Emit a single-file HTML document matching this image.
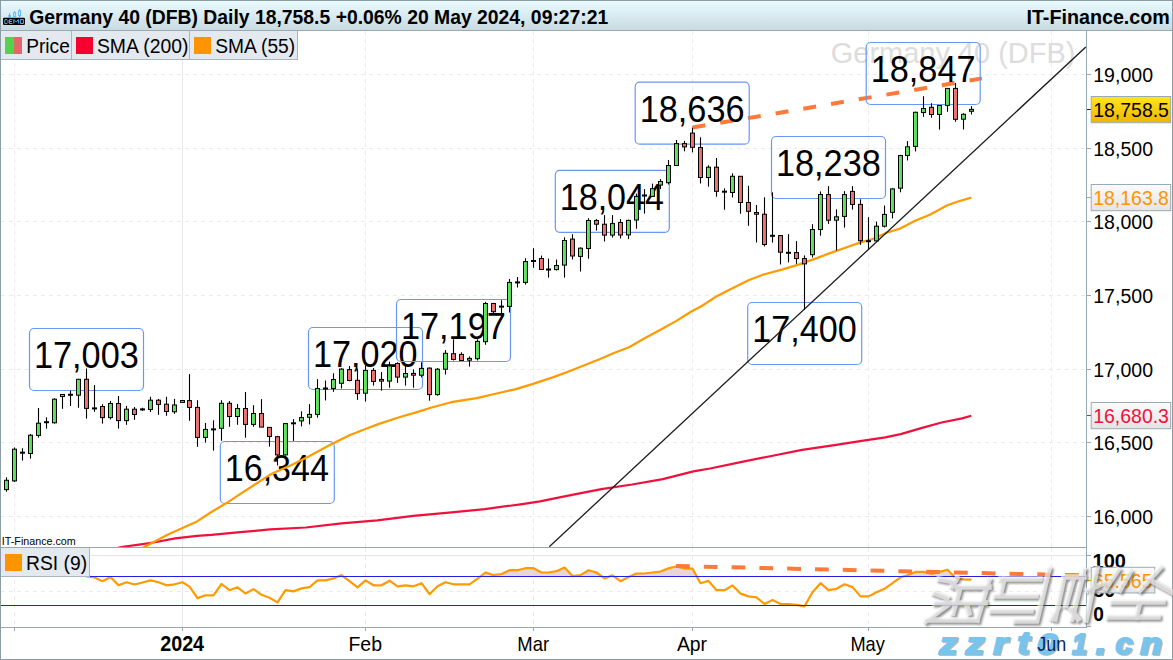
<!DOCTYPE html><html><head><meta charset="utf-8"><style>html,body{margin:0;padding:0;background:#fff;overflow:hidden}svg{display:block}text{font-family:"Liberation Sans",sans-serif}</style></head><body>
<svg width="1173" height="660" viewBox="0 0 1173 660">
<defs>
<linearGradient id="hdr" x1="0" y1="0" x2="0" y2="1"><stop offset="0" stop-color="#ebfcff"/><stop offset="0.5" stop-color="#d9ecf2"/><stop offset="1" stop-color="#c9dae0"/></linearGradient>
<linearGradient id="yel" x1="0" y1="0" x2="0" y2="1"><stop offset="0" stop-color="#ffe61e"/><stop offset="1" stop-color="#f0b400"/></linearGradient>
<linearGradient id="gry" x1="0" y1="0" x2="0" y2="1"><stop offset="0" stop-color="#fbfbfb"/><stop offset="1" stop-color="#e4e4e4"/></linearGradient>
<linearGradient id="gc" x1="0" y1="0" x2="1" y2="0"><stop offset="0" stop-color="#6cf06c"/><stop offset="1" stop-color="#4fcf4f"/></linearGradient>
<linearGradient id="rc" x1="0" y1="0" x2="1" y2="0"><stop offset="0" stop-color="#f47c7c"/><stop offset="1" stop-color="#e06868"/></linearGradient>
<clipPath id="main"><rect x="1" y="31" width="1085" height="516"/></clipPath>
<clipPath id="rsip"><rect x="1" y="548" width="1085" height="79"/></clipPath>
<clipPath id="above70"><rect x="1" y="548" width="1085" height="28.5"/></clipPath>
</defs>
<rect x="0" y="0" width="1173" height="660" fill="#fff"/>
<rect x="0" y="0" width="1173" height="30" fill="url(#hdr)"/>
<line x1="0" y1="30.5" x2="1173" y2="30.5" stroke="#9aaab2" stroke-width="1"/>
<line x1="1" y1="74.5" x2="1086" y2="74.5" stroke="#ebebeb" stroke-dasharray="4 4"/><line x1="1" y1="148.5" x2="1086" y2="148.5" stroke="#ebebeb" stroke-dasharray="4 4"/><line x1="1" y1="221.5" x2="1086" y2="221.5" stroke="#ebebeb" stroke-dasharray="4 4"/><line x1="1" y1="295.5" x2="1086" y2="295.5" stroke="#ebebeb" stroke-dasharray="4 4"/><line x1="1" y1="369.5" x2="1086" y2="369.5" stroke="#ebebeb" stroke-dasharray="4 4"/><line x1="1" y1="442.5" x2="1086" y2="442.5" stroke="#ebebeb" stroke-dasharray="4 4"/><line x1="1" y1="516.5" x2="1086" y2="516.5" stroke="#ebebeb" stroke-dasharray="4 4"/><line x1="14.5" y1="31" x2="14.5" y2="547" stroke="#ebebeb" stroke-dasharray="4 4"/><line x1="182.5" y1="31" x2="182.5" y2="547" stroke="#e9e9e9"/><line x1="365.5" y1="31" x2="365.5" y2="547" stroke="#ebebeb" stroke-dasharray="4 4"/><line x1="533.5" y1="31" x2="533.5" y2="547" stroke="#ebebeb" stroke-dasharray="4 4"/><line x1="692.5" y1="31" x2="692.5" y2="547" stroke="#ebebeb" stroke-dasharray="4 4"/><line x1="868.5" y1="31" x2="868.5" y2="547" stroke="#ebebeb" stroke-dasharray="4 4"/><line x1="1051.5" y1="31" x2="1051.5" y2="547" stroke="#ebebeb" stroke-dasharray="4 4"/>
<text transform="translate(830.75,62.80) scale(0.9707,1)" font-size="29.86" font-weight="normal" font-style="normal" fill="#dddddd" >Germany 40 (DFB)</text>
<line x1="692.5" y1="127.5" x2="982" y2="78.4" stroke="#ff7a3a" stroke-width="4" stroke-dasharray="13 15.1"/>
<rect x="29.5" y="328.5" width="114" height="62" rx="4.5" fill="none" stroke="#6898f4" stroke-width="1.2"/><text transform="translate(33.96,368.00) scale(0.9505,1)" font-size="36.09" font-weight="normal" font-style="normal" fill="#000" >17,003</text><rect x="220.3" y="441.5" width="114" height="62" rx="4.5" fill="none" stroke="#6898f4" stroke-width="1.2"/><text transform="translate(224.77,481.00) scale(0.9440,1)" font-size="36.09" font-weight="normal" font-style="normal" fill="#000" >16,344</text><rect x="308.5" y="327.5" width="114" height="62" rx="4.5" fill="none" stroke="#6898f4" stroke-width="1.2"/><text transform="translate(312.97,367.00) scale(0.9473,1)" font-size="36.09" font-weight="normal" font-style="normal" fill="#000" >17,020</text><rect x="396.5" y="299.5" width="114" height="62" rx="4.5" fill="none" stroke="#6898f4" stroke-width="1.2"/><text transform="translate(400.96,339.00) scale(0.9505,1)" font-size="36.09" font-weight="normal" font-style="normal" fill="#000" >17,197</text><rect x="555.3" y="170.3" width="114" height="62" rx="4.5" fill="none" stroke="#6898f4" stroke-width="1.2"/><text transform="translate(559.77,209.80) scale(0.9440,1)" font-size="36.09" font-weight="normal" font-style="normal" fill="#000" >18,044</text><rect x="635.2" y="82.2" width="114" height="62" rx="4.5" fill="none" stroke="#6898f4" stroke-width="1.2"/><text transform="translate(639.66,121.70) scale(0.9505,1)" font-size="36.09" font-weight="normal" font-style="normal" fill="#000" >18,636</text><rect x="771.5" y="136.5" width="114" height="62" rx="4.5" fill="none" stroke="#6898f4" stroke-width="1.2"/><text transform="translate(775.96,176.00) scale(0.9505,1)" font-size="36.09" font-weight="normal" font-style="normal" fill="#000" >18,238</text><rect x="747.7" y="302.5" width="114" height="62" rx="4.5" fill="none" stroke="#6898f4" stroke-width="1.2"/><text transform="translate(752.17,342.00) scale(0.9473,1)" font-size="36.09" font-weight="normal" font-style="normal" fill="#000" >17,400</text><rect x="866.2" y="42.5" width="114" height="62" rx="4.5" fill="none" stroke="#6898f4" stroke-width="1.2"/><text transform="translate(870.66,82.00) scale(0.9505,1)" font-size="36.09" font-weight="normal" font-style="normal" fill="#000" >18,847</text>
<g clip-path="url(#main)"><polyline points="118.0,547.8 123.0,546.8 139.0,544.6 153.5,542.5 175.2,538.4 197.0,535.9 211.4,534.9 237.5,532.3 255.0,530.9 270.0,529.4 305.8,527.5 341.6,523.4 377.4,520.3 413.2,515.8 449.0,512.7 484.8,509.1 520.6,504.3 540.0,501.4 570.7,495.2 601.4,489.1 632.1,484.5 662.8,479.1 693.4,471.4 710.0,468.5 740.7,462.1 771.4,456.0 802.1,449.9 832.8,445.3 863.4,440.7 885.3,437.3 900.7,434.1 921.2,428.1 941.6,422.5 962.1,418.4 971.3,415.7" fill="none" stroke="#f0103c" stroke-width="2.2" stroke-linejoin="round"/>
<polyline points="141.0,548.8 144.8,546.8 168.0,534.5 182.5,528.0 197.0,521.4 211.4,512.0 226.0,503.3 240.4,493.9 254.9,484.5 269.4,475.1 276.7,471.6 292.1,464.8 309.1,456.3 327.9,446.0 336.4,441.8 350.0,435.0 365.4,429.0 379.0,423.9 400.0,417.0 417.0,412.1 430.7,407.8 451.2,402.2 476.7,398.1 495.5,393.7 515.9,389.1 533.0,383.9 553.5,377.1 570.5,370.8 600.0,358.9 614.5,352.7 629.1,347.3 645.5,337.8 660.0,330.0 676.4,320.9 690.9,311.8 701.8,306.0 716.4,296.4 730.9,289.1 749.1,280.0 763.6,274.5 781.8,269.6 800.0,264.1 815.3,258.6 830.7,252.9 846.0,247.5 861.4,242.1 873.7,238.8 885.9,232.9 899.7,228.8 915.1,220.7 930.4,214.5 947.3,205.3 958.0,201.5 971.2,197.6" fill="none" stroke="#ff9a00" stroke-width="2.2" stroke-linejoin="round"/></g>
<g><line x1="6.5" y1="477.3" x2="6.5" y2="491.7" stroke="#000" stroke-width="1.1"/><rect x="4.5" y="480.3" width="4" height="9.3" fill="url(#gc)" stroke="#000" stroke-width="1"/><line x1="14.5" y1="447.4" x2="14.5" y2="481.9" stroke="#000" stroke-width="1.1"/><rect x="12.5" y="449.2" width="4" height="31.7" fill="url(#gc)" stroke="#000" stroke-width="1"/><line x1="22.5" y1="448.2" x2="22.5" y2="460.6" stroke="#000" stroke-width="1.1"/><rect x="20.0" y="451.7" width="5" height="2" fill="#000"/><line x1="30.5" y1="434.0" x2="30.5" y2="458.6" stroke="#000" stroke-width="1.1"/><rect x="28.5" y="435.2" width="4" height="18.3" fill="url(#gc)" stroke="#000" stroke-width="1"/><line x1="38.5" y1="408.0" x2="38.5" y2="437.6" stroke="#000" stroke-width="1.1"/><rect x="36.5" y="423.2" width="4" height="12.2" fill="url(#gc)" stroke="#000" stroke-width="1"/><line x1="46.5" y1="417.3" x2="46.5" y2="428.7" stroke="#000" stroke-width="1.1"/><rect x="44.0" y="421.2" width="5" height="2" fill="#000"/><line x1="54.5" y1="398.2" x2="54.5" y2="423.6" stroke="#000" stroke-width="1.1"/><rect x="52.5" y="399.2" width="4" height="23.6" fill="url(#gc)" stroke="#000" stroke-width="1"/><line x1="62.5" y1="394.2" x2="62.5" y2="408.8" stroke="#000" stroke-width="1.1"/><rect x="60.5" y="394.5" width="4" height="2.0" fill="url(#gc)" stroke="#000" stroke-width="1"/><line x1="70.5" y1="390.7" x2="70.5" y2="406.0" stroke="#000" stroke-width="1.1"/><rect x="68.0" y="393.8" width="5" height="2" fill="#000"/><line x1="78.5" y1="378.9" x2="78.5" y2="407.8" stroke="#000" stroke-width="1.1"/><rect x="76.5" y="379.3" width="4" height="15.9" fill="url(#gc)" stroke="#000" stroke-width="1"/><line x1="86.5" y1="368.5" x2="86.5" y2="418.6" stroke="#000" stroke-width="1.1"/><rect x="84.5" y="379.3" width="4" height="29.1" fill="url(#rc)" stroke="#000" stroke-width="1"/><line x1="94.5" y1="385.0" x2="94.5" y2="411.8" stroke="#000" stroke-width="1.1"/><rect x="92.0" y="407.4" width="5" height="2" fill="#000"/><line x1="102.5" y1="404.2" x2="102.5" y2="423.6" stroke="#000" stroke-width="1.1"/><rect x="100.5" y="406.5" width="4" height="11.1" fill="url(#rc)" stroke="#000" stroke-width="1"/><line x1="110.5" y1="400.9" x2="110.5" y2="419.5" stroke="#000" stroke-width="1.1"/><rect x="108.5" y="403.5" width="4" height="14.1" fill="url(#gc)" stroke="#000" stroke-width="1"/><line x1="118.5" y1="396.0" x2="118.5" y2="428.6" stroke="#000" stroke-width="1.1"/><rect x="116.5" y="403.5" width="4" height="17.1" fill="url(#rc)" stroke="#000" stroke-width="1"/><line x1="126.5" y1="405.9" x2="126.5" y2="424.8" stroke="#000" stroke-width="1.1"/><rect x="124.5" y="409.2" width="4" height="11.4" fill="url(#gc)" stroke="#000" stroke-width="1"/><line x1="134.5" y1="407.0" x2="134.5" y2="419.8" stroke="#000" stroke-width="1.1"/><rect x="132.5" y="409.2" width="4" height="5.3" fill="url(#rc)" stroke="#000" stroke-width="1"/><line x1="142.5" y1="407.7" x2="142.5" y2="410.9" stroke="#000" stroke-width="1.1"/><rect x="140.0" y="408.4" width="5" height="2" fill="#000"/><line x1="150.5" y1="396.8" x2="150.5" y2="412.0" stroke="#000" stroke-width="1.1"/><rect x="148.5" y="400.2" width="4" height="9.3" fill="url(#gc)" stroke="#000" stroke-width="1"/><line x1="158.5" y1="399.0" x2="158.5" y2="414.8" stroke="#000" stroke-width="1.1"/><rect x="156.5" y="400.2" width="4" height="4.2" fill="url(#rc)" stroke="#000" stroke-width="1"/><line x1="166.5" y1="396.8" x2="166.5" y2="415.8" stroke="#000" stroke-width="1.1"/><rect x="164.5" y="404.2" width="4" height="7.3" fill="url(#rc)" stroke="#000" stroke-width="1"/><line x1="174.5" y1="398.9" x2="174.5" y2="413.8" stroke="#000" stroke-width="1.1"/><rect x="172.5" y="405.0" width="4" height="6.8" fill="url(#gc)" stroke="#000" stroke-width="1"/><line x1="182.5" y1="400.5" x2="182.5" y2="402.4" stroke="#000" stroke-width="1.1"/><rect x="180.5" y="400.5" width="4" height="1.9" fill="url(#gc)" stroke="#000" stroke-width="1"/><line x1="189.5" y1="374.1" x2="189.5" y2="420.8" stroke="#000" stroke-width="1.1"/><rect x="187.5" y="400.6" width="4" height="6.8" fill="url(#rc)" stroke="#000" stroke-width="1"/><line x1="197.5" y1="400.2" x2="197.5" y2="446.8" stroke="#000" stroke-width="1.1"/><rect x="195.5" y="407.4" width="4" height="30.0" fill="url(#rc)" stroke="#000" stroke-width="1"/><line x1="205.5" y1="423.0" x2="205.5" y2="442.6" stroke="#000" stroke-width="1.1"/><rect x="203.5" y="429.4" width="4" height="8.0" fill="url(#gc)" stroke="#000" stroke-width="1"/><line x1="213.5" y1="420.3" x2="213.5" y2="450.6" stroke="#000" stroke-width="1.1"/><rect x="211.0" y="428.4" width="5" height="2" fill="#000"/><line x1="221.5" y1="400.2" x2="221.5" y2="440.8" stroke="#000" stroke-width="1.1"/><rect x="219.5" y="403.3" width="4" height="25.0" fill="url(#gc)" stroke="#000" stroke-width="1"/><line x1="229.5" y1="401.0" x2="229.5" y2="426.8" stroke="#000" stroke-width="1.1"/><rect x="227.5" y="403.3" width="4" height="13.2" fill="url(#rc)" stroke="#000" stroke-width="1"/><line x1="237.5" y1="404.1" x2="237.5" y2="424.8" stroke="#000" stroke-width="1.1"/><rect x="235.5" y="408.5" width="4" height="8.0" fill="url(#gc)" stroke="#000" stroke-width="1"/><line x1="245.5" y1="392.0" x2="245.5" y2="437.7" stroke="#000" stroke-width="1.1"/><rect x="243.5" y="408.5" width="4" height="15.9" fill="url(#rc)" stroke="#000" stroke-width="1"/><line x1="253.5" y1="405.2" x2="253.5" y2="426.8" stroke="#000" stroke-width="1.1"/><rect x="251.5" y="413.5" width="4" height="10.9" fill="url(#gc)" stroke="#000" stroke-width="1"/><line x1="261.5" y1="399.1" x2="261.5" y2="427.1" stroke="#000" stroke-width="1.1"/><rect x="259.5" y="413.5" width="4" height="13.6" fill="url(#rc)" stroke="#000" stroke-width="1"/><line x1="269.5" y1="427.1" x2="269.5" y2="446.6" stroke="#000" stroke-width="1.1"/><rect x="267.5" y="427.4" width="4" height="9.1" fill="url(#rc)" stroke="#000" stroke-width="1"/><line x1="277.5" y1="435.8" x2="277.5" y2="465.5" stroke="#000" stroke-width="1.1"/><rect x="275.5" y="436.7" width="4" height="18.2" fill="url(#rc)" stroke="#000" stroke-width="1"/><line x1="285.5" y1="423.0" x2="285.5" y2="455.5" stroke="#000" stroke-width="1.1"/><rect x="283.5" y="423.6" width="4" height="31.3" fill="url(#gc)" stroke="#000" stroke-width="1"/><line x1="293.5" y1="419.1" x2="293.5" y2="440.9" stroke="#000" stroke-width="1.1"/><rect x="291.0" y="422.3" width="5" height="2" fill="#000"/><line x1="301.5" y1="411.3" x2="301.5" y2="426.4" stroke="#000" stroke-width="1.1"/><rect x="299.5" y="417.6" width="4" height="3.3" fill="url(#gc)" stroke="#000" stroke-width="1"/><line x1="309.5" y1="404.2" x2="309.5" y2="424.5" stroke="#000" stroke-width="1.1"/><rect x="307.5" y="414.4" width="4" height="2.9" fill="url(#gc)" stroke="#000" stroke-width="1"/><line x1="317.5" y1="379.1" x2="317.5" y2="417.6" stroke="#000" stroke-width="1.1"/><rect x="315.5" y="388.5" width="4" height="25.9" fill="url(#gc)" stroke="#000" stroke-width="1"/><line x1="325.5" y1="380.5" x2="325.5" y2="400.5" stroke="#000" stroke-width="1.1"/><rect x="323.0" y="387.5" width="5" height="2" fill="#000"/><line x1="333.5" y1="373.3" x2="333.5" y2="391.8" stroke="#000" stroke-width="1.1"/><rect x="331.5" y="379.5" width="4" height="9.0" fill="url(#gc)" stroke="#000" stroke-width="1"/><line x1="341.5" y1="368.2" x2="341.5" y2="388.5" stroke="#000" stroke-width="1.1"/><rect x="339.5" y="369.1" width="4" height="14.2" fill="url(#gc)" stroke="#000" stroke-width="1"/><line x1="349.5" y1="366.0" x2="349.5" y2="381.3" stroke="#000" stroke-width="1.1"/><rect x="347.5" y="369.6" width="4" height="10.9" fill="url(#rc)" stroke="#000" stroke-width="1"/><line x1="357.5" y1="368.6" x2="357.5" y2="399.9" stroke="#000" stroke-width="1.1"/><rect x="355.5" y="380.3" width="4" height="13.3" fill="url(#rc)" stroke="#000" stroke-width="1"/><line x1="365.5" y1="365.5" x2="365.5" y2="401.5" stroke="#000" stroke-width="1.1"/><rect x="363.5" y="370.4" width="4" height="22.8" fill="url(#gc)" stroke="#000" stroke-width="1"/><line x1="373.5" y1="368.1" x2="373.5" y2="385.6" stroke="#000" stroke-width="1.1"/><rect x="371.5" y="370.4" width="4" height="11.0" fill="url(#rc)" stroke="#000" stroke-width="1"/><line x1="381.5" y1="372.1" x2="381.5" y2="390.7" stroke="#000" stroke-width="1.1"/><rect x="379.5" y="379.4" width="4" height="1.7" fill="url(#rc)" stroke="#000" stroke-width="1"/><line x1="389.5" y1="361.7" x2="389.5" y2="387.7" stroke="#000" stroke-width="1.1"/><rect x="387.5" y="366.0" width="4" height="15.1" fill="url(#gc)" stroke="#000" stroke-width="1"/><line x1="397.5" y1="362.3" x2="397.5" y2="382.9" stroke="#000" stroke-width="1.1"/><rect x="395.5" y="363.5" width="4" height="13.6" fill="url(#rc)" stroke="#000" stroke-width="1"/><line x1="405.5" y1="364.9" x2="405.5" y2="385.6" stroke="#000" stroke-width="1.1"/><rect x="403.5" y="373.5" width="4" height="3.6" fill="url(#gc)" stroke="#000" stroke-width="1"/><line x1="413.5" y1="369.4" x2="413.5" y2="387.7" stroke="#000" stroke-width="1.1"/><rect x="411.5" y="373.4" width="4" height="1.8" fill="url(#rc)" stroke="#000" stroke-width="1"/><line x1="421.5" y1="362.3" x2="421.5" y2="377.3" stroke="#000" stroke-width="1.1"/><rect x="419.5" y="368.4" width="4" height="6.8" fill="url(#gc)" stroke="#000" stroke-width="1"/><line x1="429.5" y1="367.4" x2="429.5" y2="400.7" stroke="#000" stroke-width="1.1"/><rect x="427.5" y="368.1" width="4" height="26.5" fill="url(#rc)" stroke="#000" stroke-width="1"/><line x1="437.5" y1="368.1" x2="437.5" y2="395.7" stroke="#000" stroke-width="1.1"/><rect x="435.5" y="369.2" width="4" height="25.4" fill="url(#gc)" stroke="#000" stroke-width="1"/><line x1="445.5" y1="350.1" x2="445.5" y2="374.5" stroke="#000" stroke-width="1.1"/><rect x="443.5" y="353.3" width="4" height="15.9" fill="url(#gc)" stroke="#000" stroke-width="1"/><line x1="453.5" y1="339.3" x2="453.5" y2="360.5" stroke="#000" stroke-width="1.1"/><rect x="451.5" y="353.7" width="4" height="5.7" fill="url(#rc)" stroke="#000" stroke-width="1"/><line x1="461.5" y1="352.3" x2="461.5" y2="360.5" stroke="#000" stroke-width="1.1"/><rect x="459.5" y="354.4" width="4" height="6.1" fill="url(#rc)" stroke="#000" stroke-width="1"/><line x1="469.5" y1="356.4" x2="469.5" y2="366.6" stroke="#000" stroke-width="1.1"/><rect x="467.5" y="358.4" width="4" height="1.8" fill="url(#gc)" stroke="#000" stroke-width="1"/><line x1="477.5" y1="339.3" x2="477.5" y2="360.5" stroke="#000" stroke-width="1.1"/><rect x="475.5" y="341.4" width="4" height="17.3" fill="url(#gc)" stroke="#000" stroke-width="1"/><line x1="485.5" y1="301.8" x2="485.5" y2="344.8" stroke="#000" stroke-width="1.1"/><rect x="483.5" y="303.5" width="4" height="38.2" fill="url(#gc)" stroke="#000" stroke-width="1"/><line x1="493.5" y1="302.9" x2="493.5" y2="313.4" stroke="#000" stroke-width="1.1"/><rect x="491.5" y="303.5" width="4" height="8.2" fill="url(#rc)" stroke="#000" stroke-width="1"/><line x1="501.5" y1="300.2" x2="501.5" y2="313.8" stroke="#000" stroke-width="1.1"/><rect x="499.0" y="305.6" width="5" height="2" fill="#000"/><line x1="509.5" y1="279.0" x2="509.5" y2="312.5" stroke="#000" stroke-width="1.1"/><rect x="507.5" y="282.4" width="4" height="24.0" fill="url(#gc)" stroke="#000" stroke-width="1"/><line x1="517.5" y1="277.0" x2="517.5" y2="287.5" stroke="#000" stroke-width="1.1"/><rect x="515.0" y="281.4" width="5" height="2" fill="#000"/><line x1="525.5" y1="258.2" x2="525.5" y2="284.6" stroke="#000" stroke-width="1.1"/><rect x="523.5" y="261.6" width="4" height="20.8" fill="url(#gc)" stroke="#000" stroke-width="1"/><line x1="533.5" y1="248.2" x2="533.5" y2="267.8" stroke="#000" stroke-width="1.1"/><rect x="531.0" y="260.0" width="5" height="2" fill="#000"/><line x1="541.5" y1="255.5" x2="541.5" y2="269.5" stroke="#000" stroke-width="1.1"/><rect x="539.5" y="258.5" width="4" height="11.0" fill="url(#rc)" stroke="#000" stroke-width="1"/><line x1="548.5" y1="258.5" x2="548.5" y2="277.6" stroke="#000" stroke-width="1.1"/><rect x="546.0" y="268.5" width="5" height="2" fill="#000"/><line x1="556.5" y1="259.5" x2="556.5" y2="270.5" stroke="#000" stroke-width="1.1"/><rect x="554.5" y="265.5" width="4" height="4.1" fill="url(#gc)" stroke="#000" stroke-width="1"/><line x1="564.5" y1="237.3" x2="564.5" y2="277.6" stroke="#000" stroke-width="1.1"/><rect x="562.5" y="240.5" width="4" height="24.6" fill="url(#gc)" stroke="#000" stroke-width="1"/><line x1="572.5" y1="234.2" x2="572.5" y2="259.5" stroke="#000" stroke-width="1.1"/><rect x="570.5" y="239.1" width="4" height="16.9" fill="url(#rc)" stroke="#000" stroke-width="1"/><line x1="580.5" y1="247.3" x2="580.5" y2="271.5" stroke="#000" stroke-width="1.1"/><rect x="578.5" y="248.2" width="4" height="8.2" fill="url(#gc)" stroke="#000" stroke-width="1"/><line x1="588.5" y1="218.2" x2="588.5" y2="258.7" stroke="#000" stroke-width="1.1"/><rect x="586.5" y="220.5" width="4" height="28.0" fill="url(#gc)" stroke="#000" stroke-width="1"/><line x1="596.5" y1="219.1" x2="596.5" y2="230.5" stroke="#000" stroke-width="1.1"/><rect x="594.5" y="220.5" width="4" height="3.7" fill="url(#rc)" stroke="#000" stroke-width="1"/><line x1="604.5" y1="215.1" x2="604.5" y2="241.5" stroke="#000" stroke-width="1.1"/><rect x="602.5" y="224.2" width="4" height="10.9" fill="url(#rc)" stroke="#000" stroke-width="1"/><line x1="612.5" y1="215.1" x2="612.5" y2="237.6" stroke="#000" stroke-width="1.1"/><rect x="610.5" y="223.6" width="4" height="11.5" fill="url(#gc)" stroke="#000" stroke-width="1"/><line x1="620.5" y1="219.1" x2="620.5" y2="238.5" stroke="#000" stroke-width="1.1"/><rect x="618.5" y="222.5" width="4" height="12.5" fill="url(#rc)" stroke="#000" stroke-width="1"/><line x1="628.5" y1="219.6" x2="628.5" y2="239.1" stroke="#000" stroke-width="1.1"/><rect x="626.5" y="220.4" width="4" height="14.5" fill="url(#gc)" stroke="#000" stroke-width="1"/><line x1="636.5" y1="193.6" x2="636.5" y2="228.7" stroke="#000" stroke-width="1.1"/><rect x="634.5" y="196.4" width="4" height="23.6" fill="url(#gc)" stroke="#000" stroke-width="1"/><line x1="644.5" y1="189.1" x2="644.5" y2="213.6" stroke="#000" stroke-width="1.1"/><rect x="642.0" y="194.5" width="5" height="2" fill="#000"/><line x1="652.5" y1="183.6" x2="652.5" y2="196.4" stroke="#000" stroke-width="1.1"/><rect x="650.5" y="188.7" width="4" height="7.7" fill="url(#gc)" stroke="#000" stroke-width="1"/><line x1="660.5" y1="179.1" x2="660.5" y2="189.1" stroke="#000" stroke-width="1.1"/><rect x="658.5" y="181.5" width="4" height="3.6" fill="url(#gc)" stroke="#000" stroke-width="1"/><line x1="668.5" y1="160.0" x2="668.5" y2="184.5" stroke="#000" stroke-width="1.1"/><rect x="666.5" y="165.5" width="4" height="17.2" fill="url(#gc)" stroke="#000" stroke-width="1"/><line x1="676.5" y1="140.0" x2="676.5" y2="165.5" stroke="#000" stroke-width="1.1"/><rect x="674.5" y="143.6" width="4" height="21.9" fill="url(#gc)" stroke="#000" stroke-width="1"/><line x1="684.5" y1="140.9" x2="684.5" y2="151.3" stroke="#000" stroke-width="1.1"/><rect x="682.5" y="143.6" width="4" height="3.3" fill="url(#rc)" stroke="#000" stroke-width="1"/><line x1="692.5" y1="127.6" x2="692.5" y2="152.4" stroke="#000" stroke-width="1.1"/><rect x="690.5" y="133.1" width="4" height="14.2" fill="url(#rc)" stroke="#000" stroke-width="1"/><line x1="700.5" y1="137.3" x2="700.5" y2="183.5" stroke="#000" stroke-width="1.1"/><rect x="698.5" y="147.6" width="4" height="29.9" fill="url(#rc)" stroke="#000" stroke-width="1"/><line x1="708.5" y1="165.3" x2="708.5" y2="186.6" stroke="#000" stroke-width="1.1"/><rect x="706.5" y="167.2" width="4" height="10.3" fill="url(#gc)" stroke="#000" stroke-width="1"/><line x1="716.5" y1="158.0" x2="716.5" y2="196.7" stroke="#000" stroke-width="1.1"/><rect x="714.5" y="167.2" width="4" height="24.1" fill="url(#rc)" stroke="#000" stroke-width="1"/><line x1="724.5" y1="188.3" x2="724.5" y2="209.7" stroke="#000" stroke-width="1.1"/><rect x="722.0" y="190.7" width="5" height="2" fill="#000"/><line x1="732.5" y1="173.3" x2="732.5" y2="197.5" stroke="#000" stroke-width="1.1"/><rect x="730.5" y="176.3" width="4" height="16.2" fill="url(#gc)" stroke="#000" stroke-width="1"/><line x1="740.5" y1="176.3" x2="740.5" y2="213.7" stroke="#000" stroke-width="1.1"/><rect x="738.5" y="176.3" width="4" height="26.2" fill="url(#rc)" stroke="#000" stroke-width="1"/><line x1="748.5" y1="185.8" x2="748.5" y2="225.8" stroke="#000" stroke-width="1.1"/><rect x="746.5" y="202.5" width="4" height="8.8" fill="url(#rc)" stroke="#000" stroke-width="1"/><line x1="756.5" y1="205.0" x2="756.5" y2="242.5" stroke="#000" stroke-width="1.1"/><rect x="754.5" y="212.5" width="4" height="1.7" fill="url(#rc)" stroke="#000" stroke-width="1"/><line x1="764.5" y1="197.3" x2="764.5" y2="246.5" stroke="#000" stroke-width="1.1"/><rect x="762.5" y="214.2" width="4" height="30.3" fill="url(#rc)" stroke="#000" stroke-width="1"/><line x1="772.5" y1="192.3" x2="772.5" y2="242.6" stroke="#000" stroke-width="1.1"/><rect x="770.0" y="234.8" width="5" height="2" fill="#000"/><line x1="780.5" y1="235.6" x2="780.5" y2="264.5" stroke="#000" stroke-width="1.1"/><rect x="778.5" y="235.6" width="4" height="16.6" fill="url(#rc)" stroke="#000" stroke-width="1"/><line x1="788.5" y1="234.1" x2="788.5" y2="262.4" stroke="#000" stroke-width="1.1"/><rect x="786.0" y="251.8" width="5" height="2" fill="#000"/><line x1="796.5" y1="241.1" x2="796.5" y2="263.9" stroke="#000" stroke-width="1.1"/><rect x="794.5" y="252.6" width="4" height="6.0" fill="url(#rc)" stroke="#000" stroke-width="1"/><line x1="804.5" y1="255.4" x2="804.5" y2="309.9" stroke="#000" stroke-width="1.1"/><rect x="802.5" y="258.6" width="4" height="5.3" fill="url(#rc)" stroke="#000" stroke-width="1"/><line x1="812.5" y1="224.2" x2="812.5" y2="257.5" stroke="#000" stroke-width="1.1"/><rect x="810.5" y="229.5" width="4" height="25.2" fill="url(#gc)" stroke="#000" stroke-width="1"/><line x1="820.5" y1="191.4" x2="820.5" y2="235.7" stroke="#000" stroke-width="1.1"/><rect x="818.5" y="194.5" width="4" height="35.0" fill="url(#gc)" stroke="#000" stroke-width="1"/><line x1="828.5" y1="186.1" x2="828.5" y2="223.9" stroke="#000" stroke-width="1.1"/><rect x="826.5" y="194.6" width="4" height="25.6" fill="url(#rc)" stroke="#000" stroke-width="1"/><line x1="836.5" y1="209.3" x2="836.5" y2="250.5" stroke="#000" stroke-width="1.1"/><rect x="834.5" y="216.8" width="4" height="3.4" fill="url(#gc)" stroke="#000" stroke-width="1"/><line x1="844.5" y1="191.1" x2="844.5" y2="227.6" stroke="#000" stroke-width="1.1"/><rect x="842.5" y="194.6" width="4" height="21.8" fill="url(#gc)" stroke="#000" stroke-width="1"/><line x1="852.5" y1="186.1" x2="852.5" y2="209.6" stroke="#000" stroke-width="1.1"/><rect x="850.5" y="191.4" width="4" height="13.0" fill="url(#rc)" stroke="#000" stroke-width="1"/><line x1="860.5" y1="199.3" x2="860.5" y2="244.8" stroke="#000" stroke-width="1.1"/><rect x="858.5" y="204.4" width="4" height="36.3" fill="url(#rc)" stroke="#000" stroke-width="1"/><line x1="868.5" y1="217.1" x2="868.5" y2="249.1" stroke="#000" stroke-width="1.1"/><rect x="866.0" y="240.2" width="5" height="2" fill="#000"/><line x1="876.5" y1="221.6" x2="876.5" y2="241.6" stroke="#000" stroke-width="1.1"/><rect x="874.5" y="226.2" width="4" height="14.7" fill="url(#gc)" stroke="#000" stroke-width="1"/><line x1="884.5" y1="205.5" x2="884.5" y2="227.5" stroke="#000" stroke-width="1.1"/><rect x="882.5" y="214.4" width="4" height="11.8" fill="url(#gc)" stroke="#000" stroke-width="1"/><line x1="892.5" y1="188.2" x2="892.5" y2="218.4" stroke="#000" stroke-width="1.1"/><rect x="890.5" y="188.9" width="4" height="23.4" fill="url(#gc)" stroke="#000" stroke-width="1"/><line x1="900.5" y1="154.8" x2="900.5" y2="192.3" stroke="#000" stroke-width="1.1"/><rect x="898.5" y="155.5" width="4" height="32.7" fill="url(#gc)" stroke="#000" stroke-width="1"/><line x1="907.5" y1="141.1" x2="907.5" y2="160.5" stroke="#000" stroke-width="1.1"/><rect x="905.5" y="146.8" width="4" height="8.7" fill="url(#gc)" stroke="#000" stroke-width="1"/><line x1="915.5" y1="111.6" x2="915.5" y2="151.4" stroke="#000" stroke-width="1.1"/><rect x="913.5" y="112.3" width="4" height="34.1" fill="url(#gc)" stroke="#000" stroke-width="1"/><line x1="923.5" y1="96.2" x2="923.5" y2="116.8" stroke="#000" stroke-width="1.1"/><rect x="921.5" y="108.5" width="4" height="4.0" fill="url(#gc)" stroke="#000" stroke-width="1"/><line x1="931.5" y1="103.2" x2="931.5" y2="117.7" stroke="#000" stroke-width="1.1"/><rect x="929.5" y="107.3" width="4" height="7.2" fill="url(#rc)" stroke="#000" stroke-width="1"/><line x1="939.5" y1="105.3" x2="939.5" y2="129.6" stroke="#000" stroke-width="1.1"/><rect x="937.5" y="105.5" width="4" height="8.9" fill="url(#gc)" stroke="#000" stroke-width="1"/><line x1="947.5" y1="88.2" x2="947.5" y2="111.8" stroke="#000" stroke-width="1.1"/><rect x="945.5" y="88.4" width="4" height="17.0" fill="url(#gc)" stroke="#000" stroke-width="1"/><line x1="955.5" y1="83.0" x2="955.5" y2="121.8" stroke="#000" stroke-width="1.1"/><rect x="953.5" y="88.4" width="4" height="30.9" fill="url(#rc)" stroke="#000" stroke-width="1"/><line x1="963.5" y1="113.3" x2="963.5" y2="129.5" stroke="#000" stroke-width="1.1"/><rect x="961.5" y="114.3" width="4" height="4.9" fill="url(#gc)" stroke="#000" stroke-width="1"/><line x1="971.5" y1="106.2" x2="971.5" y2="114.5" stroke="#000" stroke-width="1.1"/><rect x="969.5" y="109.4" width="4" height="1.9" fill="url(#gc)" stroke="#000" stroke-width="1"/></g>
<line x1="549.3" y1="546.7" x2="1085.8" y2="47" stroke="#1a1a1a" stroke-width="1.3" clip-path="url(#main)"/>
<line x1="1086.5" y1="31" x2="1086.5" y2="628" stroke="#98a8b2" stroke-width="1"/>
<line x1="1087" y1="74.5" x2="1091" y2="74.5" stroke="#98a8b2"/><text transform="translate(1093.24,81.50) scale(0.9571,1)" font-size="20.43" font-weight="normal" font-style="normal" fill="#000" >19,000</text><line x1="1087" y1="148.5" x2="1091" y2="148.5" stroke="#98a8b2"/><text transform="translate(1093.24,155.50) scale(0.9571,1)" font-size="20.43" font-weight="normal" font-style="normal" fill="#000" >18,500</text><line x1="1087" y1="221.5" x2="1091" y2="221.5" stroke="#98a8b2"/><text transform="translate(1093.24,228.50) scale(0.9571,1)" font-size="20.43" font-weight="normal" font-style="normal" fill="#000" >18,000</text><line x1="1087" y1="295.5" x2="1091" y2="295.5" stroke="#98a8b2"/><text transform="translate(1093.24,302.50) scale(0.9571,1)" font-size="20.43" font-weight="normal" font-style="normal" fill="#000" >17,500</text><line x1="1087" y1="369.5" x2="1091" y2="369.5" stroke="#98a8b2"/><text transform="translate(1093.24,376.50) scale(0.9571,1)" font-size="20.43" font-weight="normal" font-style="normal" fill="#000" >17,000</text><line x1="1087" y1="442.5" x2="1091" y2="442.5" stroke="#98a8b2"/><text transform="translate(1093.24,449.50) scale(0.9571,1)" font-size="20.43" font-weight="normal" font-style="normal" fill="#000" >16,500</text><line x1="1087" y1="516.5" x2="1091" y2="516.5" stroke="#98a8b2"/><text transform="translate(1093.24,523.50) scale(0.9571,1)" font-size="20.43" font-weight="normal" font-style="normal" fill="#000" >16,000</text>
<line x1="1087" y1="109.5" x2="1091" y2="109.5" stroke="#222"/><rect x="1091.2" y="96.5" width="79.5" height="26.2" fill="url(#yel)" stroke="#9aabb5" stroke-width="1"/><text transform="translate(1093.24,116.90) scale(0.9721,1)" font-size="20.00" font-weight="normal" font-style="normal" fill="#000" >18,758.5</text>
<line x1="1087" y1="197.5" x2="1091" y2="197.5" stroke="#ff9a00"/><rect x="1091.2" y="184.5" width="79.5" height="26.2" fill="url(#gry)" stroke="#9aabb5" stroke-width="1"/><text transform="translate(1093.24,204.90) scale(0.9721,1)" font-size="20.00" font-weight="normal" font-style="normal" fill="#ff9400" >18,163.8</text>
<line x1="1087" y1="415.5" x2="1091" y2="415.5" stroke="#f0103c"/><rect x="1091.2" y="402.5" width="79.5" height="26.2" fill="url(#gry)" stroke="#9aabb5" stroke-width="1"/><text transform="translate(1093.24,422.90) scale(0.9721,1)" font-size="20.00" font-weight="normal" font-style="normal" fill="#f0103c" >16,680.3</text>
<text transform="translate(29.13,23.55) scale(0.9925,1)" font-size="19.51" font-weight="bold" font-style="normal" fill="#000" >Germany 40 (DFB) Daily 18,758.5 +0.06% 20 May 2024, 09:27:21</text>
<text transform="translate(1026.42,23.90) scale(0.9582,1)" font-size="20.58" font-weight="bold" font-style="normal" fill="#000" >IT-Finance.com</text>
<g><rect x="3" y="17.8" width="22" height="7.2" rx="1.2" fill="#000"/>
<path d="M4.8 19.6h2.2l0.9 0.9v2.2l-0.9 0.9h-2.2z M12.4 19.6h-3v3.9h3 M9.4 21.5h2.6 M13.8 23.5v-3.9l2.3 2.2l2.3-2.2v3.9 M20.4 19.6h3v3.9h-3z" fill="none" stroke="#5ab8f4" stroke-width="0.95"/>
<path d="M9.6 13v5 M14.6 11v7 M19.6 9v9" stroke="#5ab8f4" stroke-width="1"/>
<rect x="8.3" y="15" width="2.6" height="3" fill="#5ab8f4"/>
<rect x="13.6" y="12.8" width="2" height="3.6" fill="#e0f2f8" stroke="#5ab8f4" stroke-width="1"/>
<rect x="18.6" y="10.8" width="2" height="4.8" fill="#e0f2f8" stroke="#5ab8f4" stroke-width="1"/></g>
<rect x="1" y="31" width="296.5" height="28" fill="#e3e9ee"/>
<line x1="1" y1="59.5" x2="298" y2="59.5" stroke="#a9b6be"/><line x1="297.5" y1="31" x2="297.5" y2="60" stroke="#a9b6be"/><line x1="71.5" y1="31" x2="71.5" y2="59" stroke="#a9b6be"/><line x1="189.5" y1="31" x2="189.5" y2="59" stroke="#a9b6be"/>
<rect x="5" y="37" width="9" height="17" fill="#55d04f"/><rect x="14" y="37" width="8" height="17" fill="#e06868"/>
<text transform="translate(26.17,52.80) scale(0.9246,1)" font-size="20.72" font-weight="normal" font-style="normal" fill="#000" >Price</text>
<rect x="76" y="37" width="17" height="17" fill="#f5002f"/>
<text transform="translate(96.93,52.70) scale(0.9756,1)" font-size="19.86" font-weight="normal" font-style="normal" fill="#000" >SMA (200)</text>
<rect x="194" y="37" width="17" height="17" fill="#ff9400"/>
<text transform="translate(215.24,52.70) scale(0.9651,1)" font-size="19.86" font-weight="normal" font-style="normal" fill="#000" >SMA (55)</text>
<text transform="translate(1.83,544.80) scale(1.0017,1)" font-size="10.72" font-weight="normal" font-style="normal" fill="#000" >IT-Finance.com</text>
<line x1="0" y1="547.5" x2="1086" y2="547.5" stroke="#98a8b2"/>
<line x1="1" y1="555.5" x2="1086" y2="555.5" stroke="#e6e6e6"/>
<line x1="1" y1="591.5" x2="1086" y2="591.5" stroke="#ebebeb" stroke-dasharray="4 4"/>
<line x1="14.5" y1="548" x2="14.5" y2="627" stroke="#ebebeb" stroke-dasharray="4 4"/><line x1="182.5" y1="548" x2="182.5" y2="627" stroke="#e9e9e9"/><line x1="365.5" y1="548" x2="365.5" y2="627" stroke="#ebebeb" stroke-dasharray="4 4"/><line x1="533.5" y1="548" x2="533.5" y2="627" stroke="#ebebeb" stroke-dasharray="4 4"/><line x1="692.5" y1="548" x2="692.5" y2="627" stroke="#ebebeb" stroke-dasharray="4 4"/><line x1="868.5" y1="548" x2="868.5" y2="627" stroke="#ebebeb" stroke-dasharray="4 4"/><line x1="1051.5" y1="548" x2="1051.5" y2="627" stroke="#ebebeb" stroke-dasharray="4 4"/>
<polygon clip-path="url(#above70)" points="86.5,576.3 94.5,577.4 102.5,581.2 110.5,577.1 118.5,585.3 126.5,582.2 134.5,584.5 142.5,582.5 150.5,580.4 158.5,582.2 166.5,585.3 174.5,584.3 182.5,582.2 189.5,586.6 197.5,598.1 205.5,595.3 213.5,595.3 221.5,584.0 229.5,590.2 237.5,587.3 245.5,593.5 253.5,589.1 261.5,594.8 269.5,597.8 277.5,602.4 285.5,590.2 293.5,591.4 301.5,588.4 309.5,587.1 317.5,580.4 325.5,580.4 333.5,578.4 341.5,575.1 349.5,581.2 357.5,587.3 365.5,580.4 373.5,585.3 381.5,585.3 389.5,580.7 397.5,586.3 405.5,585.3 413.5,586.3 421.5,583.2 429.5,594.2 437.5,586.3 445.5,582.2 453.5,584.3 461.5,584.3 469.5,584.3 477.5,578.6 485.5,572.5 493.5,575.1 501.5,574.0 509.5,570.2 517.5,570.2 525.5,568.2 533.5,568.2 541.5,572.5 548.5,572.5 556.5,571.2 564.5,567.6 572.5,576.1 580.5,575.1 588.5,570.2 596.5,572.5 604.5,578.4 612.5,575.3 620.5,581.2 628.5,577.1 636.5,573.5 644.5,573.5 652.5,572.5 660.5,571.5 668.5,568.4 676.5,566.3 684.5,568.6 692.5,568.6 700.5,583.2 708.5,580.9 716.5,590.2 724.5,590.2 732.5,585.4 740.5,593.6 748.5,596.4 756.5,597.3 764.5,604.0 772.5,600.1 780.5,604.0 788.5,604.0 796.5,604.9 804.5,606.3 812.5,592.2 820.5,583.2 828.5,590.2 836.5,588.8 844.5,584.3 852.5,587.1 860.5,596.4 868.5,596.4 876.5,592.2 884.5,588.8 892.5,583.2 900.5,577.3 907.5,575.3 915.5,571.9 923.5,571.9 931.5,573.9 939.5,571.9 947.5,569.7 955.5,578.1 963.5,579.3 971.5,579.7 971.5,576.5 86.5,576.5" fill="#e8d6d6"/>
<polyline points="86.5,576.3 94.5,577.4 102.5,581.2 110.5,577.1 118.5,585.3 126.5,582.2 134.5,584.5 142.5,582.5 150.5,580.4 158.5,582.2 166.5,585.3 174.5,584.3 182.5,582.2 189.5,586.6 197.5,598.1 205.5,595.3 213.5,595.3 221.5,584.0 229.5,590.2 237.5,587.3 245.5,593.5 253.5,589.1 261.5,594.8 269.5,597.8 277.5,602.4 285.5,590.2 293.5,591.4 301.5,588.4 309.5,587.1 317.5,580.4 325.5,580.4 333.5,578.4 341.5,575.1 349.5,581.2 357.5,587.3 365.5,580.4 373.5,585.3 381.5,585.3 389.5,580.7 397.5,586.3 405.5,585.3 413.5,586.3 421.5,583.2 429.5,594.2 437.5,586.3 445.5,582.2 453.5,584.3 461.5,584.3 469.5,584.3 477.5,578.6 485.5,572.5 493.5,575.1 501.5,574.0 509.5,570.2 517.5,570.2 525.5,568.2 533.5,568.2 541.5,572.5 548.5,572.5 556.5,571.2 564.5,567.6 572.5,576.1 580.5,575.1 588.5,570.2 596.5,572.5 604.5,578.4 612.5,575.3 620.5,581.2 628.5,577.1 636.5,573.5 644.5,573.5 652.5,572.5 660.5,571.5 668.5,568.4 676.5,566.3 684.5,568.6 692.5,568.6 700.5,583.2 708.5,580.9 716.5,590.2 724.5,590.2 732.5,585.4 740.5,593.6 748.5,596.4 756.5,597.3 764.5,604.0 772.5,600.1 780.5,604.0 788.5,604.0 796.5,604.9 804.5,606.3 812.5,592.2 820.5,583.2 828.5,590.2 836.5,588.8 844.5,584.3 852.5,587.1 860.5,596.4 868.5,596.4 876.5,592.2 884.5,588.8 892.5,583.2 900.5,577.3 907.5,575.3 915.5,571.9 923.5,571.9 931.5,573.9 939.5,571.9 947.5,569.7 955.5,578.1 963.5,579.3 971.5,579.7" fill="none" stroke="#ff9a00" stroke-width="2.2" stroke-linejoin="round"/>
<line x1="1" y1="576.5" x2="1086" y2="576.5" stroke="#2020e0" stroke-width="1.2"/>
<line x1="1" y1="605.5" x2="1086" y2="605.5" stroke="#2020e0" stroke-width="1.2"/>
<line x1="676" y1="566" x2="1086" y2="575.5" stroke="#ff7a3a" stroke-width="4" stroke-dasharray="13.8 14" clip-path="url(#rsip)"/>
<rect x="1" y="548" width="88" height="28" fill="#e3e9ee"/><line x1="89.5" y1="548" x2="89.5" y2="577" stroke="#a9b6be"/><line x1="1" y1="576.5" x2="90" y2="576.5" stroke="#a9b6be"/>
<rect x="5" y="554" width="17" height="17" fill="#ff9400"/>
<text transform="translate(25.96,570.00) scale(0.9583,1)" font-size="20.15" font-weight="normal" font-style="normal" fill="#000" >RSI (9)</text>
<line x1="1087" y1="555.5" x2="1091" y2="555.5" stroke="#98a8b2"/><line x1="1087" y1="591.5" x2="1091" y2="591.5" stroke="#98a8b2"/><line x1="1087" y1="626.5" x2="1091" y2="626.5" stroke="#98a8b2"/>
<text transform="translate(1092.60,568.00) scale(0.9857,1)" font-size="20.29" font-weight="bold" font-style="normal" fill="#000" >100</text>
<text transform="translate(1093.31,597.30) scale(0.9904,1)" font-size="20.00" font-weight="bold" font-style="normal" fill="#000" >50</text>
<text transform="translate(1093.33,621.20) scale(0.9642,1)" font-size="19.86" font-weight="bold" font-style="normal" fill="#000" >0</text>
<line x1="1087" y1="580.5" x2="1091" y2="580.5" stroke="#ff9a00"/>
<rect x="1091.2" y="567.3" width="63.6" height="25.7" fill="url(#gry)" stroke="#9aabb5" stroke-width="1"/>
<text transform="translate(1092.93,587.70) scale(0.9887,1)" font-size="19.72" font-weight="normal" font-style="normal" fill="#ff9400" >65.565</text>
<line x1="0" y1="627.5" x2="1087" y2="627.5" stroke="#98a8b2" stroke-width="1.2"/>
<line x1="14.5" y1="628" x2="14.5" y2="631" stroke="#98a8b2"/><line x1="182.5" y1="628" x2="182.5" y2="631" stroke="#98a8b2"/><line x1="365.5" y1="628" x2="365.5" y2="631" stroke="#98a8b2"/><line x1="533.5" y1="628" x2="533.5" y2="631" stroke="#98a8b2"/><line x1="692.5" y1="628" x2="692.5" y2="631" stroke="#98a8b2"/><line x1="868.5" y1="628" x2="868.5" y2="631" stroke="#98a8b2"/><line x1="1051.5" y1="628" x2="1051.5" y2="631" stroke="#98a8b2"/>
<text transform="translate(160.21,650.90) scale(0.9205,1)" font-size="21.43" font-weight="bold" font-style="normal" fill="#000" >2024</text>
<text transform="translate(348.44,650.90) scale(0.9750,1)" font-size="20.00" font-weight="normal" font-style="normal" fill="#000" >Feb</text>
<text transform="translate(517.32,650.90) scale(0.9233,1)" font-size="20.00" font-weight="normal" font-style="normal" fill="#000" >Mar</text>
<text transform="translate(676.90,650.90) scale(0.9606,1)" font-size="20.14" font-weight="normal" font-style="normal" fill="#000" >Apr</text>
<text transform="translate(850.44,650.90) scale(0.9116,1)" font-size="20.00" font-weight="normal" font-style="normal" fill="#000" >May</text>
<rect x="0.5" y="0.5" width="1172" height="659" fill="none" stroke="#8c9ca4" stroke-width="1"/>
<defs><filter id="wmb" x="-10%" y="-10%" width="120%" height="120%"><feGaussianBlur stdDeviation="1.2"/></filter></defs>
<g transform="translate(1.8,1.8)" filter="url(#wmb)" opacity="0.6"><polyline points="939,579 950,581" fill="none" stroke="#444" stroke-width="5.5" stroke-linecap="square" stroke-linejoin="miter"/><polyline points="934,593 947,598" fill="none" stroke="#444" stroke-width="5.5" stroke-linecap="square" stroke-linejoin="miter"/><polyline points="926,621 949,604" fill="none" stroke="#444" stroke-width="5.5" stroke-linecap="square" stroke-linejoin="miter"/><polyline points="957,578 952,586" fill="none" stroke="#444" stroke-width="5.5" stroke-linecap="square" stroke-linejoin="miter"/><polyline points="957,587 989,587" fill="none" stroke="#444" stroke-width="5.5" stroke-linecap="square" stroke-linejoin="miter"/><polyline points="960,588 953,613" fill="none" stroke="#444" stroke-width="5.5" stroke-linecap="square" stroke-linejoin="miter"/><polyline points="989,580 977,620" fill="none" stroke="#444" stroke-width="5.5" stroke-linecap="square" stroke-linejoin="miter"/><polyline points="935,603 985,603" fill="none" stroke="#444" stroke-width="5.5" stroke-linecap="square" stroke-linejoin="miter"/><polyline points="926,620 977,620" fill="none" stroke="#444" stroke-width="5.5" stroke-linecap="square" stroke-linejoin="miter"/><polyline points="958,593 956,600" fill="none" stroke="#444" stroke-width="5.5" stroke-linecap="square" stroke-linejoin="miter"/><polyline points="967,606 969,613" fill="none" stroke="#444" stroke-width="5.5" stroke-linecap="square" stroke-linejoin="miter"/><polyline points="1001,579 1040,579" fill="none" stroke="#444" stroke-width="5.5" stroke-linecap="square" stroke-linejoin="miter"/><polyline points="1004,579 1001,592" fill="none" stroke="#444" stroke-width="5.5" stroke-linecap="square" stroke-linejoin="miter"/><polyline points="995,596 1036,596" fill="none" stroke="#444" stroke-width="5.5" stroke-linecap="square" stroke-linejoin="miter"/><polyline points="1049,569 1037,620" fill="none" stroke="#444" stroke-width="5.5" stroke-linecap="square" stroke-linejoin="miter"/><polyline points="991,611 1031,611" fill="none" stroke="#444" stroke-width="5.5" stroke-linecap="square" stroke-linejoin="miter"/><polyline points="1015,621 1036,621" fill="none" stroke="#444" stroke-width="5.5" stroke-linecap="square" stroke-linejoin="miter"/><polyline points="1064,577 1055,619" fill="none" stroke="#444" stroke-width="5.5" stroke-linecap="square" stroke-linejoin="miter"/><polyline points="1064,577 1084,577" fill="none" stroke="#444" stroke-width="5.5" stroke-linecap="square" stroke-linejoin="miter"/><polyline points="1084,570 1072,619" fill="none" stroke="#444" stroke-width="5.5" stroke-linecap="square" stroke-linejoin="miter"/><polyline points="1073,580 1066,605" fill="none" stroke="#444" stroke-width="5.5" stroke-linecap="square" stroke-linejoin="miter"/><polyline points="1052,618 1058,608" fill="none" stroke="#444" stroke-width="5.5" stroke-linecap="square" stroke-linejoin="miter"/><polyline points="1071,609 1078,619" fill="none" stroke="#444" stroke-width="5.5" stroke-linecap="square" stroke-linejoin="miter"/><polyline points="1097,568 1086,620" fill="none" stroke="#444" stroke-width="5.5" stroke-linecap="square" stroke-linejoin="miter"/><polyline points="1088,590 1104,583" fill="none" stroke="#444" stroke-width="5.5" stroke-linecap="square" stroke-linejoin="miter"/><polyline points="1118,570 1106,588" fill="none" stroke="#444" stroke-width="5.5" stroke-linecap="square" stroke-linejoin="miter"/><polyline points="1130,572 1120,590" fill="none" stroke="#444" stroke-width="5.5" stroke-linecap="square" stroke-linejoin="miter"/><polyline points="1160,568 1140,590" fill="none" stroke="#444" stroke-width="5.5" stroke-linecap="square" stroke-linejoin="miter"/><polyline points="1150,580 1172,592" fill="none" stroke="#444" stroke-width="5.5" stroke-linecap="square" stroke-linejoin="miter"/><polyline points="1112,602 1163,602" fill="none" stroke="#444" stroke-width="5.5" stroke-linecap="square" stroke-linejoin="miter"/><polyline points="1140,602 1136,617" fill="none" stroke="#444" stroke-width="5.5" stroke-linecap="square" stroke-linejoin="miter"/><polyline points="1108,617 1158,617" fill="none" stroke="#444" stroke-width="5.5" stroke-linecap="square" stroke-linejoin="miter"/></g>
<g opacity="0.65"><polyline points="939,579 950,581" fill="none" stroke="#fff" stroke-width="5.5" stroke-linecap="square" stroke-linejoin="miter"/><polyline points="934,593 947,598" fill="none" stroke="#fff" stroke-width="5.5" stroke-linecap="square" stroke-linejoin="miter"/><polyline points="926,621 949,604" fill="none" stroke="#fff" stroke-width="5.5" stroke-linecap="square" stroke-linejoin="miter"/><polyline points="957,578 952,586" fill="none" stroke="#fff" stroke-width="5.5" stroke-linecap="square" stroke-linejoin="miter"/><polyline points="957,587 989,587" fill="none" stroke="#fff" stroke-width="5.5" stroke-linecap="square" stroke-linejoin="miter"/><polyline points="960,588 953,613" fill="none" stroke="#fff" stroke-width="5.5" stroke-linecap="square" stroke-linejoin="miter"/><polyline points="989,580 977,620" fill="none" stroke="#fff" stroke-width="5.5" stroke-linecap="square" stroke-linejoin="miter"/><polyline points="935,603 985,603" fill="none" stroke="#fff" stroke-width="5.5" stroke-linecap="square" stroke-linejoin="miter"/><polyline points="926,620 977,620" fill="none" stroke="#fff" stroke-width="5.5" stroke-linecap="square" stroke-linejoin="miter"/><polyline points="958,593 956,600" fill="none" stroke="#fff" stroke-width="5.5" stroke-linecap="square" stroke-linejoin="miter"/><polyline points="967,606 969,613" fill="none" stroke="#fff" stroke-width="5.5" stroke-linecap="square" stroke-linejoin="miter"/><polyline points="1001,579 1040,579" fill="none" stroke="#fff" stroke-width="5.5" stroke-linecap="square" stroke-linejoin="miter"/><polyline points="1004,579 1001,592" fill="none" stroke="#fff" stroke-width="5.5" stroke-linecap="square" stroke-linejoin="miter"/><polyline points="995,596 1036,596" fill="none" stroke="#fff" stroke-width="5.5" stroke-linecap="square" stroke-linejoin="miter"/><polyline points="1049,569 1037,620" fill="none" stroke="#fff" stroke-width="5.5" stroke-linecap="square" stroke-linejoin="miter"/><polyline points="991,611 1031,611" fill="none" stroke="#fff" stroke-width="5.5" stroke-linecap="square" stroke-linejoin="miter"/><polyline points="1015,621 1036,621" fill="none" stroke="#fff" stroke-width="5.5" stroke-linecap="square" stroke-linejoin="miter"/><polyline points="1064,577 1055,619" fill="none" stroke="#fff" stroke-width="5.5" stroke-linecap="square" stroke-linejoin="miter"/><polyline points="1064,577 1084,577" fill="none" stroke="#fff" stroke-width="5.5" stroke-linecap="square" stroke-linejoin="miter"/><polyline points="1084,570 1072,619" fill="none" stroke="#fff" stroke-width="5.5" stroke-linecap="square" stroke-linejoin="miter"/><polyline points="1073,580 1066,605" fill="none" stroke="#fff" stroke-width="5.5" stroke-linecap="square" stroke-linejoin="miter"/><polyline points="1052,618 1058,608" fill="none" stroke="#fff" stroke-width="5.5" stroke-linecap="square" stroke-linejoin="miter"/><polyline points="1071,609 1078,619" fill="none" stroke="#fff" stroke-width="5.5" stroke-linecap="square" stroke-linejoin="miter"/><polyline points="1097,568 1086,620" fill="none" stroke="#fff" stroke-width="5.5" stroke-linecap="square" stroke-linejoin="miter"/><polyline points="1088,590 1104,583" fill="none" stroke="#fff" stroke-width="5.5" stroke-linecap="square" stroke-linejoin="miter"/><polyline points="1118,570 1106,588" fill="none" stroke="#fff" stroke-width="5.5" stroke-linecap="square" stroke-linejoin="miter"/><polyline points="1130,572 1120,590" fill="none" stroke="#fff" stroke-width="5.5" stroke-linecap="square" stroke-linejoin="miter"/><polyline points="1160,568 1140,590" fill="none" stroke="#fff" stroke-width="5.5" stroke-linecap="square" stroke-linejoin="miter"/><polyline points="1150,580 1172,592" fill="none" stroke="#fff" stroke-width="5.5" stroke-linecap="square" stroke-linejoin="miter"/><polyline points="1112,602 1163,602" fill="none" stroke="#fff" stroke-width="5.5" stroke-linecap="square" stroke-linejoin="miter"/><polyline points="1140,602 1136,617" fill="none" stroke="#fff" stroke-width="5.5" stroke-linecap="square" stroke-linejoin="miter"/><polyline points="1108,617 1158,617" fill="none" stroke="#fff" stroke-width="5.5" stroke-linecap="square" stroke-linejoin="miter"/></g>
<g transform="translate(1.3,1.3)" opacity="0.55">
<text transform="translate(939.20,654.00) scale(1.1763,1)" font-size="30.19" font-weight="bold" font-style="italic" fill="#8a8a8a" stroke="#8a8a8a" stroke-width="2">z</text>
<text transform="translate(965.80,654.00) scale(1.2101,1)" font-size="30.19" font-weight="bold" font-style="italic" fill="#8a8a8a" stroke="#8a8a8a" stroke-width="2">z</text>
<text transform="translate(993.17,654.00) scale(1.2038,1)" font-size="30.19" font-weight="bold" font-style="italic" fill="#8a8a8a" stroke="#8a8a8a" stroke-width="2">r</text>
<text transform="translate(1017.57,653.69) scale(1.1512,1)" font-size="31.06" font-weight="bold" font-style="italic" fill="#8a8a8a" stroke="#8a8a8a" stroke-width="2">t</text>
<text transform="translate(1036.94,654.00) scale(1.2275,1)" font-size="29.71" font-weight="bold" font-style="italic" fill="#8a8a8a" stroke="#8a8a8a" stroke-width="2">0</text>
<text transform="translate(1071.97,654.00) scale(0.8976,1)" font-size="29.71" font-weight="bold" font-style="italic" fill="#8a8a8a" stroke="#8a8a8a" stroke-width="2">1</text>
<text transform="translate(1095.77,654.00) scale(1.0941,1)" font-size="33.33" font-weight="bold" font-style="italic" fill="#8a8a8a" stroke="#8a8a8a" stroke-width="2">.</text>
<text transform="translate(1115.59,654.00) scale(1.0002,1)" font-size="30.19" font-weight="bold" font-style="italic" fill="#8a8a8a" stroke="#8a8a8a" stroke-width="2">c</text>
<text transform="translate(1140.29,654.00) scale(1.1744,1)" font-size="30.19" font-weight="bold" font-style="italic" fill="#8a8a8a" stroke="#8a8a8a" stroke-width="2">n</text>
</g>
<g>
<text transform="translate(939.20,654.00) scale(1.1763,1)" font-size="30.19" font-weight="bold" font-style="italic" fill="#79c4ec" stroke="#79c4ec" stroke-width="2">z</text>
<text transform="translate(965.80,654.00) scale(1.2101,1)" font-size="30.19" font-weight="bold" font-style="italic" fill="#79c4ec" stroke="#79c4ec" stroke-width="2">z</text>
<text transform="translate(993.17,654.00) scale(1.2038,1)" font-size="30.19" font-weight="bold" font-style="italic" fill="#79c4ec" stroke="#79c4ec" stroke-width="2">r</text>
<text transform="translate(1017.57,653.69) scale(1.1512,1)" font-size="31.06" font-weight="bold" font-style="italic" fill="#79c4ec" stroke="#79c4ec" stroke-width="2">t</text>
<text transform="translate(1036.94,654.00) scale(1.2275,1)" font-size="29.71" font-weight="bold" font-style="italic" fill="#79c4ec" stroke="#79c4ec" stroke-width="2">0</text>
<text transform="translate(1071.97,654.00) scale(0.8976,1)" font-size="29.71" font-weight="bold" font-style="italic" fill="#79c4ec" stroke="#79c4ec" stroke-width="2">1</text>
<text transform="translate(1095.77,654.00) scale(1.0941,1)" font-size="33.33" font-weight="bold" font-style="italic" fill="#79c4ec" stroke="#79c4ec" stroke-width="2">.</text>
<text transform="translate(1115.59,654.00) scale(1.0002,1)" font-size="30.19" font-weight="bold" font-style="italic" fill="#79c4ec" stroke="#79c4ec" stroke-width="2">c</text>
<text transform="translate(1140.29,654.00) scale(1.1744,1)" font-size="30.19" font-weight="bold" font-style="italic" fill="#79c4ec" stroke="#79c4ec" stroke-width="2">n</text>
</g>
<text transform="translate(1037.24,650.70) scale(0.9117,1)" font-size="19.71" font-weight="normal" font-style="normal" fill="#0a1f5c" >Jun</text>
</svg></body></html>
